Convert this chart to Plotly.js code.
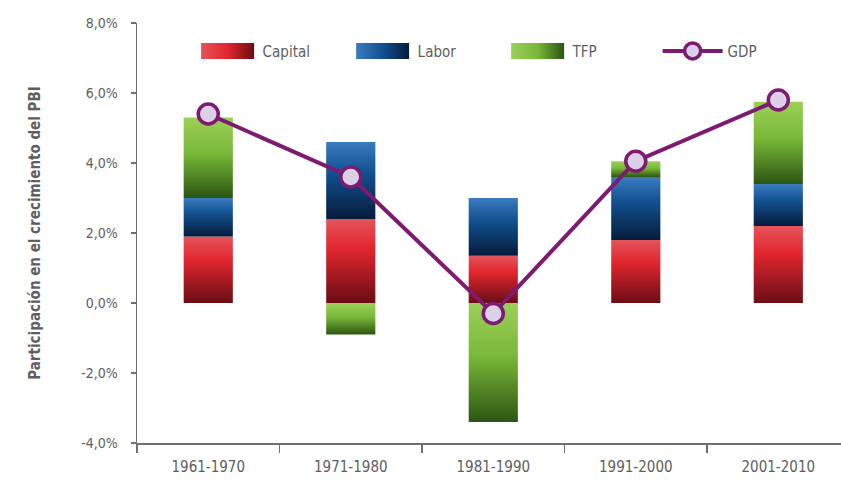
<!DOCTYPE html>
<html>
<head>
<meta charset="utf-8">
<script src="https://cdn.plot.ly/plotly-3.0.1.min.js"></script>
<style>
  html, body { margin: 0; padding: 0; background: #fff; }
  #chart { width: 841px; height: 481px; }
</style>
</head>
<body>
<div id="chart"></div>
<script>
// ---- data (percentage points of GDP growth) ----
const periods = ["1961-1970", "1971-1980", "1981-1990", "1991-2000", "2001-2010"];
const capital = [1.9, 2.4, 1.35, 1.8, 2.2];
const labor   = [1.1, 2.2, 1.65, 1.8, 1.2];
const tfp     = [2.3, -0.9, -3.4, 0.45, 2.35];
const gdp     = [5.4, 3.6, -0.3, 4.05, 5.8];
const yTicks  = [-4, -2, 0, 2, 4, 6, 8];
const yTickText = yTicks.map(v => v.toFixed(1).replace(".", ",") + "%");

const font = "'DejaVu Sans Condensed', 'Liberation Sans Narrow', 'Liberation Sans', sans-serif";
const grey = "#5e5e5e";
const barW = 0.345;

const traces = [
  { type: "bar", name: "Capital", x: periods, y: capital, width: barW,
    marker: { color: "#d42a30", line: { width: 0 } } },
  { type: "bar", name: "Labor", x: periods, y: labor, width: barW,
    marker: { color: "#17508c", line: { width: 0 } } },
  { type: "bar", name: "TFP", x: periods, y: tfp, width: barW,
    marker: { color: "#7ab83a", line: { width: 0 } } },
  { type: "scatter", mode: "lines+markers", name: "GDP", x: periods, y: gdp,
    line: { color: "#7d1a72", width: 4 },
    marker: { size: 20, color: "#dcd0e8", line: { color: "#7d1a72", width: 3.5 } } }
];

const layout = {
  width: 841, height: 481,
  margin: { l: 137, r: 0, t: 23, b: 38 },
  paper_bgcolor: "#fff", plot_bgcolor: "#fff",
  barmode: "relative",
  font: { family: font, color: grey, size: 14 },
  showlegend: true,
  legend: {
    orientation: "h", x: 0.079, xanchor: "left", y: 0.933, yanchor: "middle",
    font: { family: font, size: 15, color: grey },
    itemwidth: 60, entrywidth: 80, traceorder: "normal",
    bgcolor: "rgba(0,0,0,0)"
  },
  xaxis: {
    type: "category", range: [-0.5, 4.44],
    showline: true, linecolor: "#707070", linewidth: 1.5,
    ticks: "outside", tickson: "boundaries", ticklen: 8, tickcolor: "#707070", tickwidth: 1.5,
    showgrid: false, zeroline: false,
    ticklabelstandoff: 9,
    tickfont: { family: font, size: 15, color: grey }
  },
  yaxis: {
    range: [-4, 8], tickvals: yTicks, ticktext: yTickText,
    showline: true, linecolor: "#707070", linewidth: 1.5,
    ticks: "outside", ticklen: 5, tickcolor: "#707070", tickwidth: 1.5,
    showgrid: false, zeroline: false,
    tickfont: { family: font, size: 14, color: grey },
    ticklabelstandoff: 10,
    title: { text: "<b>Participación en el crecimiento del PBI</b>", standoff: 37,
             font: { family: font, size: 15, color: grey } }
  }
};

Plotly.newPlot("chart", traces, layout, { displayModeBar: false, staticPlot: true }).then(gd => {
  // shaded gradients on the bars (styling only)
  const svg = gd.querySelector("svg.main-svg");
  const ns = "http://www.w3.org/2000/svg";
  const defs = svg.querySelector("defs");
  const grads = {
    Capital: [["0%", "#e4545c"], ["35%", "#e2262e"], ["100%", "#6a0d15"]],
    Labor:   [["0%", "#3a7cc0"], ["40%", "#12508f"], ["100%", "#051c3c"]],
    TFP:     [["0%", "#9cd058"], ["45%", "#78b838"], ["100%", "#2c5512"]]
  };
  Object.keys(grads).forEach(k => {
    const g = document.createElementNS(ns, "linearGradient");
    g.setAttribute("id", "grad" + k);
    g.setAttribute("x1", "0"); g.setAttribute("y1", "0");
    g.setAttribute("x2", "0"); g.setAttribute("y2", "1");
    grads[k].forEach(s => {
      const st = document.createElementNS(ns, "stop");
      st.setAttribute("offset", s[0]); st.setAttribute("stop-color", s[1]);
      g.appendChild(st);
    });
    defs.appendChild(g);
    const h = document.createElementNS(ns, "linearGradient");
    h.setAttribute("id", "hgrad" + k);
    h.setAttribute("x1", "0"); h.setAttribute("y1", "0");
    h.setAttribute("x2", "1"); h.setAttribute("y2", "0");
    [["0%", grads[k][0][1]], ["50%", grads[k][1][1]], ["100%", grads[k][2][1]]].forEach(s => {
      const st = document.createElementNS(ns, "stop");
      st.setAttribute("offset", s[0]); st.setAttribute("stop-color", s[1]);
      h.appendChild(st);
    });
    defs.appendChild(h);
  });
  const names = ["Capital", "Labor", "TFP"];
  gd.querySelectorAll(".barlayer .trace").forEach((t, i) => {
    t.querySelectorAll("path").forEach(p => { p.style.fill = "url(#grad" + names[i] + ")"; });
  });
  gd.querySelectorAll(".legend .traces").forEach((t, i) => {
    if (i < 3) t.querySelectorAll(".legendpoints path").forEach(p => {
      p.setAttribute("d", "M-26.5,-8H26.5V8H-26.5Z");
      p.style.fill = "url(#hgrad" + names[i] + ")";
    });
  });
});
</script>
</body>
</html>
